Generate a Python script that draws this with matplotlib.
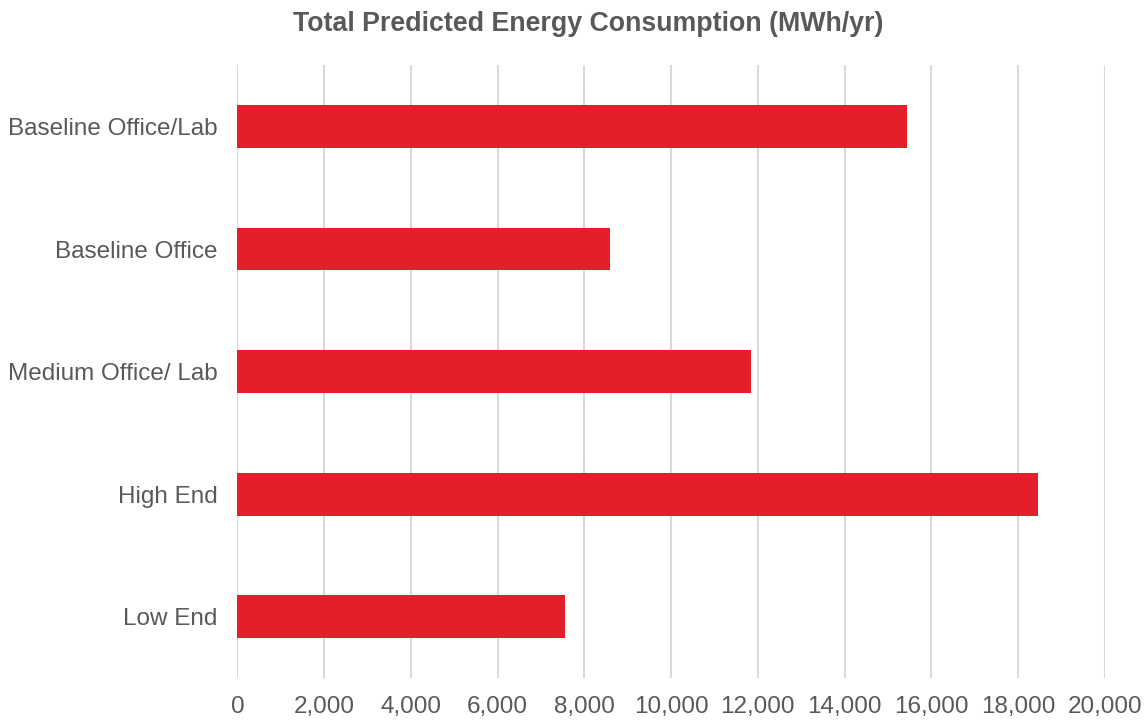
import matplotlib
matplotlib.use("Agg")
import matplotlib.pyplot as plt
from matplotlib.ticker import FuncFormatter

categories = ["Baseline Office/Lab", "Baseline Office", "Medium Office/ Lab", "High End", "Low End"]
consumption_mwh = [15450, 8590, 11840, 18470, 7550]
x_ticks = [0, 2000, 4000, 6000, 8000, 10000, 12000, 14000, 16000, 18000, 20000]

plt.rcParams["font.family"] = ["Liberation Sans", "DejaVu Sans"]
text_color = "#595959"

fig = plt.figure(figsize=(11.47, 7.24), dpi=100)
ax = fig.add_axes([0.207, 0.0635, 0.7561, 0.8465])

ypos = list(range(len(categories)))[::-1]
ax.barh(ypos, consumption_mwh, height=0.35, color="#E41E2B", zorder=3)

ax.set_xlim(0, 20000)
ax.set_ylim(-0.5, len(categories) - 0.5)
ax.set_xticks(x_ticks)
ax.xaxis.set_major_formatter(FuncFormatter(lambda v, p: f"{int(v):,}"))
ax.set_yticks(ypos)
ax.set_yticklabels(categories)

ax.grid(axis="x", color="#d9d9d9", linewidth=1.5, zorder=0)
for s in ax.spines.values():
    s.set_visible(False)
ax.tick_params(axis="both", length=0, labelsize=17.5, colors=text_color)
ax.tick_params(axis="x", pad=13)
ax.tick_params(axis="y", pad=14.5)

fig.text(0.513, 0.967, "Total Predicted Energy Consumption (MWh/yr)", fontsize=19.3,
         fontweight="bold", color=text_color, ha="center", va="center")

fig.savefig("out.png", dpi=100)
